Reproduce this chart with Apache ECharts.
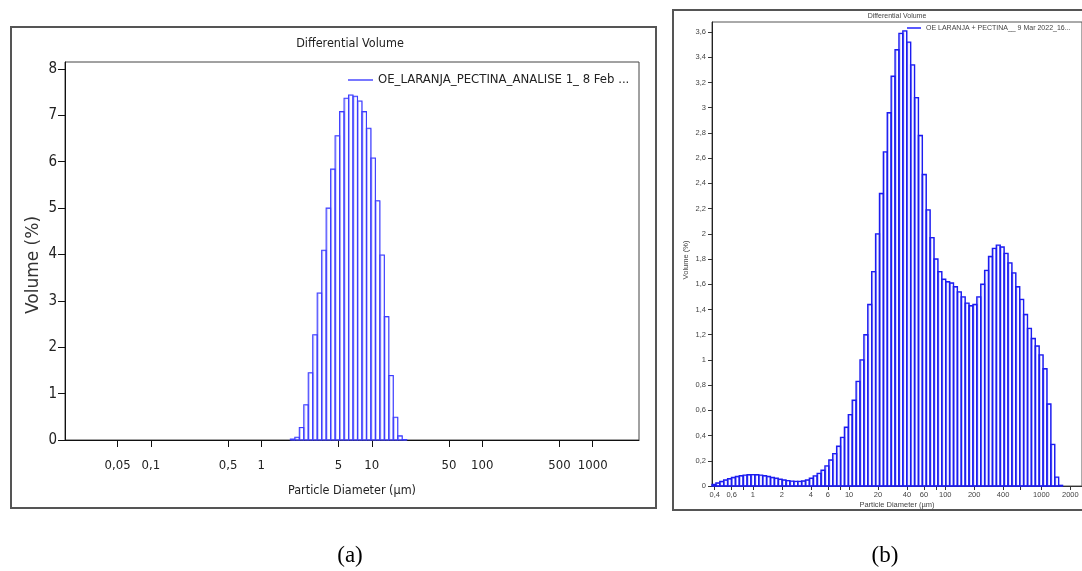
<!DOCTYPE html>
<html><head><meta charset="utf-8">
<script src="https://cdn.jsdelivr.net/npm/echarts@6/dist/echarts.min.js"></script>
<style>html,body{margin:0;padding:0;background:#fff;}#c{width:1082px;height:571px;}</style>
</head><body><div id="c"></div>
<script>
// Instrument channel edges (µm)
const binEdges = [0.375,0.412,0.452,0.496,0.545,0.598,0.657,0.721,0.791,0.869,
 0.953,1.047,1.149,1.261,1.385,1.520,1.669,1.832,2.011,2.208,
 2.423,2.660,2.920,3.206,3.519,3.863,4.241,4.656,5.111,5.611,
 6.159,6.761,7.422,8.148,8.944,9.819,10.78,11.83,12.99,14.26,
 15.65,17.18,18.86,20.71,22.73,24.95,27.39,30.07,33.01,36.24,
 39.78,43.67,47.94,52.62,57.77,63.41,69.61,76.42,83.90,92.09,
 101.1,111.0,121.8,133.7,146.8,161.2,176.8,194.2,213.2,234.1,
 256.9,282.1,309.6,339.9,373.1,409.6,449.7,493.6,541.9,594.9,
 653.0,716.9,786.9,863.9,948.3,1041,1143,1255,1377,1512,
 1660,1822,2000];

// (a) volume % per channel, starting at channel 17 (1.832 µm)
const startA = 17;
const volumeA = [0.02,0.06,0.27,0.76,1.45,2.27,3.17,4.09,5.00,5.84,
 6.56,7.08,7.37,7.44,7.41,7.31,7.08,6.72,6.08,5.16,
 3.99,2.66,1.39,0.49,0.09,0.01];
const seriesNameA = 'OE_LARANJA_PECTINA_ANALISE 1_ 8 Feb ...';

// (b) volume % per channel, starting at channel 0 (0.375 µm)
const startB = 0;
const volumeB = [0.012,0.024,0.036,0.048,0.058,0.067,0.075,0.081,0.086,0.089,
 0.090,0.089,0.086,0.081,0.075,0.068,0.061,0.054,0.048,0.043,
 0.039,0.037,0.037,0.040,0.048,0.062,0.080,0.100,0.125,0.160,
 0.206,0.257,0.315,0.386,0.466,0.566,0.680,0.830,1.00,1.20,
 1.44,1.70,2.00,2.32,2.65,2.96,3.25,3.46,3.59,3.61,
 3.52,3.34,3.08,2.78,2.47,2.19,1.97,1.80,1.70,1.64,
 1.62,1.61,1.58,1.54,1.50,1.45,1.43,1.44,1.50,1.60,
 1.71,1.82,1.885,1.91,1.895,1.845,1.77,1.69,1.58,1.48,
 1.36,1.25,1.17,1.11,1.04,0.93,0.65,0.33,0.07,0.005];
const seriesNameB = 'OE LARANJA + PECTINA__ 9 Mar 2022_16...';

// tick labels
const xTickValuesA = [0.05,0.1,0.5,1,5,10,50,100,500,1000];
const xTickLabelsA = ['0,05','0,1','0,5','1','5','10','50','100','500','1000'];
const yTickValuesA = [0,1,2,3,4,5,6,7,8];
const yTickLabelsA = ['0','1','2','3','4','5','6','7','8'];
const xTickValuesB = [0.4,0.6,0.8,1,2,4,6,8,10,20,40,60,80,100,200,400,600,1000,2000];
const xTickLabelsB = ['0,4','0,6','','1','2','4','6','','10','20','40','60','','100','200','400','','1000','2000'];
const yTickValuesB = [0,0.2,0.4,0.6,0.8,1,1.2,1.4,1.6,1.8,2,2.2,2.4,2.6,2.8,3,3.2,3.4,3.6];
const yTickLabelsB = ['0','0,2','0,4','0,6','0,8','1','1,2','1,4','1,6','1,8','2','2,2','2,4','2,6','2,8','3','3,2','3,4','3,6'];

function binData(values, start){
  const out = [];
  values.forEach((v,i)=>{ if (v > 0) out.push([Math.log10(binEdges[start+i]), Math.log10(binEdges[start+i+1]), v]); });
  return out;
}
function logFmt(vals, labels){
  return function(v){
    for (let i=0;i<vals.length;i++){ if (Math.abs(Math.log10(vals[i]) - v) < 1e-6) return labels[i]; }
    return '';
  };
}
function linFmt(vals, labels){
  return function(v){
    for (let i=0;i<vals.length;i++){ if (Math.abs(vals[i] - v) < 1e-6) return labels[i]; }
    return '';
  };
}
const labelledB = xTickValuesB.filter((v,i)=>xTickLabelsB[i] !== '');

const FA = "'DejaVu Sans Condensed','Liberation Sans Narrow',sans-serif";
const FB = "'Liberation Sans',Arial,sans-serif";

function barRenderer(stroke, lw, light){
  return function(params, api){
    const lo = api.value(0), hi = api.value(1), v = api.value(2);
    const p0 = api.coord([lo, 0]);
    const p1 = api.coord([hi, v]);
    const w = p1[0]-p0[0], h = p0[1]-p1[1];
    return { type:'group', children:[
      { type:'rect', shape:{x:p0[0]+1, y:p1[1]+0.5, width:Math.max(w-1,0.5), height:h-0.5},
        style:{fill:'none', stroke:light, lineWidth:1} },
      { type:'rect', shape:{x:p0[0], y:p1[1], width:w, height:h},
        style:{fill:'none', stroke:stroke, lineWidth:lw} }
    ]};
  };
}

const chart = echarts.init(document.getElementById('c'), null, {renderer:'canvas'});
chart.setOption({
  animation:false,
  backgroundColor:'#fff',
  grid:[
    {left:65, top:62, width:574, height:378, show:true, borderColor:'#444', borderWidth:1, containLabel:false},
    {left:712, top:22, width:376, height:464, show:true, borderColor:'#555', borderWidth:1, containLabel:false}
  ],
  xAxis:[
    {gridIndex:0, type:'value', min:Math.log10(0.0167), max:3.419,
     axisLine:{show:true, onZero:false, lineStyle:{color:'#111', width:1}},
     axisTick:{show:true, length:7, inside:false, customValues:xTickValuesA.map(Math.log10), lineStyle:{color:'#111'}},
     axisLabel:{show:true, margin:19, customValues:xTickValuesA.map(Math.log10), formatter:logFmt(xTickValuesA, xTickLabelsA),
       fontFamily:FA, fontSize:13, color:'#222'},
     splitLine:{show:false},
     name:'Particle Diameter (µm)', nameLocation:'middle', nameGap:44, nameMoveOverlap:false,
     nameTextStyle:{fontFamily:FA, fontSize:12.5, color:'#222'}},
    {gridIndex:1, type:'value', min:Math.log10(0.375), max:3.4225,
     axisLine:{show:true, onZero:false, lineStyle:{color:'#333', width:1}},
     axisTick:{show:true, length:4, customValues:xTickValuesB.map(Math.log10), lineStyle:{color:'#333'}},
     axisLabel:{show:true, margin:5, customValues:labelledB.map(Math.log10), formatter:logFmt(xTickValuesB, xTickLabelsB),
       fontFamily:FB, fontSize:7.5, color:'#444'},
     splitLine:{show:false},
     name:'Particle Diameter (µm)', nameLocation:'middle', nameGap:15, nameMoveOverlap:false,
     nameTextStyle:{fontFamily:FB, fontSize:7.5, color:'#444'}}
  ],
  yAxis:[
    {gridIndex:0, type:'value', min:0, max:8.15,
     axisLine:{show:true, onZero:false, lineStyle:{color:'#111', width:1}},
     axisTick:{show:true, length:7, customValues:yTickValuesA, lineStyle:{color:'#111'}},
     axisLabel:{show:true, margin:8, customValues:yTickValuesA, formatter:linFmt(yTickValuesA, yTickLabelsA),
       fontFamily:FA, fontSize:15, color:'#222'},
     splitLine:{show:false},
     name:'Volume (%)', nameLocation:'middle', nameGap:23, nameRotate:90, nameMoveOverlap:false,
     nameTextStyle:{fontFamily:"'DejaVu Sans',sans-serif", fontSize:17, color:'#333', padding:[0,28,0,0]}},
    {gridIndex:1, type:'value', min:0, max:3.68,
     axisLine:{show:true, onZero:false, lineStyle:{color:'#222', width:1}},
     axisTick:{show:true, length:4, customValues:yTickValuesB, lineStyle:{color:'#333'}},
     axisLabel:{show:true, margin:6, customValues:yTickValuesB, formatter:linFmt(yTickValuesB, yTickLabelsB),
       fontFamily:FB, fontSize:7.5, color:'#444'},
     splitLine:{show:false},
     name:'Volume (%)', nameLocation:'middle', nameGap:22, nameRotate:90, nameMoveOverlap:false,
     nameTextStyle:{fontFamily:FB, fontSize:7.5, color:'#444', padding:[0,12,0,0]}}
  ],
  legend:[
    {left:348, top:73.5, padding:0, itemWidth:25, itemHeight:1.5, itemGap:5,
     data:[{name:seriesNameA, icon:'rect', itemStyle:{color:'#4b4bff'}}],
     textStyle:{fontFamily:FA, fontSize:13, color:'#222'}},
    {left:907, top:24.5, padding:0, itemWidth:14, itemHeight:1.5,
     data:[{name:seriesNameB, icon:'rect', itemStyle:{color:'#2222ff'}}],
     textStyle:{fontFamily:FB, fontSize:7, color:'#444'}}
  ],
  series:[
    {type:'custom', name:seriesNameA, xAxisIndex:0, yAxisIndex:0, itemStyle:{color:'#4b4bff'},
     encode:{x:[0,1], y:2}, data:binData(volumeA, startA),
     renderItem:barRenderer('#3c3cff', 1.1, 'rgba(120,120,255,0.5)')},
    {type:'custom', name:seriesNameB, xAxisIndex:1, yAxisIndex:1, itemStyle:{color:'#2222ff'},
     encode:{x:[0,1], y:2}, data:binData(volumeB, startB),
     renderItem:barRenderer('#1c1cf0', 1.4, 'rgba(100,100,255,0.5)')}
  ],
  graphic:[
    {type:'rect', shape:{x:11, y:27, width:645, height:481}, style:{fill:'none', stroke:'#555', lineWidth:2}, silent:true},
    {type:'rect', shape:{x:673, y:10, width:420, height:500}, style:{fill:'none', stroke:'#555', lineWidth:2}, silent:true},
    {type:'text', x:350, y:44, style:{text:'Differential Volume', align:'center', verticalAlign:'middle', font:"12.5px 'DejaVu Sans Condensed',sans-serif", fill:'#222'}},
    {type:'text', x:897, y:16, style:{text:'Differential Volume', align:'center', verticalAlign:'middle', font:"7px 'Liberation Sans',Arial,sans-serif", fill:'#444'}},
    {type:'text', x:350, y:556, style:{text:'(a)', align:'center', verticalAlign:'middle', font:"23px 'Liberation Serif','Times New Roman',serif", fill:'#000'}},
    {type:'text', x:885, y:556, style:{text:'(b)', align:'center', verticalAlign:'middle', font:"23px 'Liberation Serif','Times New Roman',serif", fill:'#000'}}
  ]
});
</script></body></html>
